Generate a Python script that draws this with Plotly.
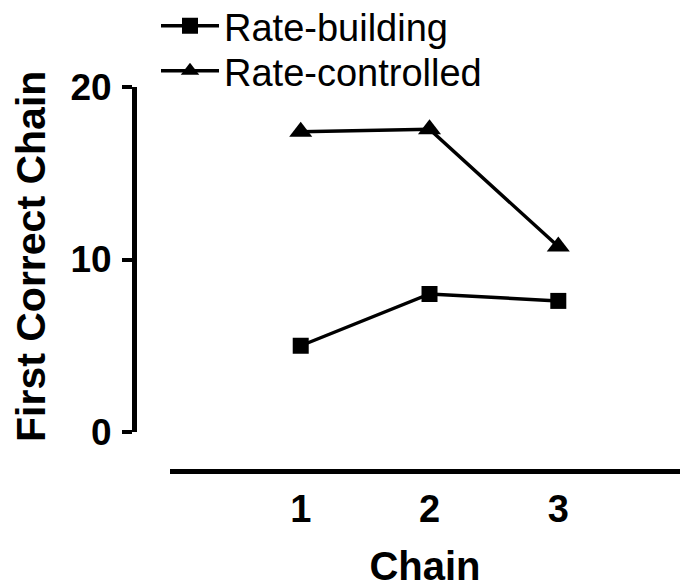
import plotly.graph_objects as go

# Chain number on the x axis
chains = [1, 2, 3]
x_tick_labels = ["1", "2", "3"]

# Mean chain at which the first correct answer occurred
rate_building = [5.0, 8.0, 7.6]
rate_controlled = [17.4, 17.55, 10.75]

y_ticks = [0, 10, 20]

W, H = 680, 588
FONT = "Arial, Liberation Sans, sans-serif"

# plot-area geometry (pixels)
left, right, top, bottom = 134, 0, 87, 117
plot_w = W - left - right
plot_h = H - top - bottom
x_axis_start = 170          # x axis line starts a little right of the y axis
y_zero_px = 432             # y = 0 sits above the x axis line

fig = go.Figure()

fig.add_trace(go.Scatter(
    x=chains, y=rate_building, name="Rate-building",
    mode="lines+markers",
    line=dict(color="black", width=3.5),
    marker=dict(symbol="square", size=16, color="black", line=dict(width=0)),
    legend="legend",
))
fig.add_trace(go.Scatter(
    x=chains, y=rate_controlled, name="Rate-controlled",
    mode="lines+markers",
    line=dict(color="black", width=3.5),
    marker=dict(symbol="triangle-up", size=20, color="black", line=dict(width=0)),
    legend="legend2",
))

legend_common = dict(
    xref="container", yref="container",
    xanchor="left", yanchor="middle",
    font=dict(family=FONT, size=38, color="black"),
    bgcolor="rgba(0,0,0,0)", borderwidth=0,
    itemwidth=58,
)

fig.update_layout(
    width=W, height=H,
    margin=dict(l=left, r=right, t=top, b=bottom, pad=0, autoexpand=False),
    paper_bgcolor="white", plot_bgcolor="white",
    font=dict(family=FONT, color="black"),
    showlegend=True,
    legend=dict(x=156 / W, y=1 - 26 / H, **legend_common),
    legend2=dict(x=156 / W, y=1 - 71 / H, **legend_common),
    xaxis=dict(
        domain=[(x_axis_start - left) / plot_w, 1],
        anchor="free", position=0, automargin=False,
        range=[-0.015, 3.945],
        tickmode="array", tickvals=chains, ticktext=x_tick_labels,
        ticks="", showgrid=False, zeroline=False,
        showline=True, linecolor="black", linewidth=5,
        tickfont=dict(family=FONT, size=38, color="black", weight="bold"),
        ticklabelstandoff=2,
        title=dict(text="Chain", font=dict(family=FONT, size=40, color="black", weight="bold"),
                   standoff=24),
    ),
    yaxis=dict(
        domain=[(H - bottom - y_zero_px) / plot_h, 1],
        anchor="free", position=0, automargin=False,
        range=[0, 20],
        tickmode="array", tickvals=y_ticks,
        ticks="outside", ticklen=10, tickwidth=4, tickcolor="black",
        showgrid=False, zeroline=False,
        showline=True, linecolor="black", linewidth=5,
        tickfont=dict(family=FONT, size=37, color="black", weight="bold"),
        ticklabelstandoff=3,
    ),
    annotations=[dict(
        text="First Correct Chain", textangle=-90,
        xref="paper", yref="paper",
        x=(31 - left) / plot_w, y=(H - bottom - 257) / plot_h,
        xanchor="center", yanchor="middle", showarrow=False,
        font=dict(family=FONT, size=41, color="black", weight="bold"),
    )],
)

fig.write_html("out.html")
